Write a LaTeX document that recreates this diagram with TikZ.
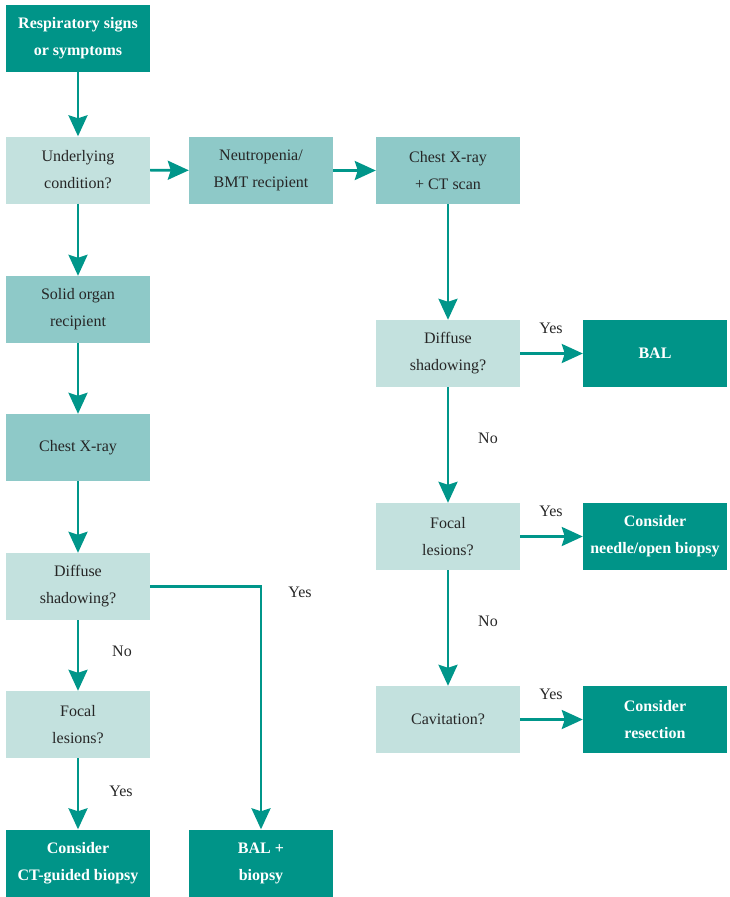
\documentclass[tikz,border=0pt]{standalone}
\usepackage{fontspec}
\setmainfont{Liberation Serif}
\usetikzlibrary{arrows.meta}
\definecolor{darkteal}{RGB}{0,148,136}
\definecolor{midteal}{RGB}{142,201,200}
\definecolor{lightteal}{RGB}{195,225,222}
\definecolor{arrowteal}{RGB}{0,150,138}
\begin{document}
\begin{tikzpicture}[x=1pt,y=-1pt,
  box/.style={minimum width=144pt,minimum height=67pt,inner sep=0pt,align=center,
    font=\fontsize{16}{27}\selectfont,text=black!85},
  darkbox/.style={box,fill=darkteal,text=white,font=\fontsize{16}{27}\selectfont\bfseries},
  midbox/.style={box,fill=midteal},
  lightbox/.style={box,fill=lightteal},
  arr/.style={draw=arrowteal,line width=2.6pt,-{Stealth[length=21pt,width=19pt,inset=3pt]}},
  lab/.style={font=\fontsize{16}{19}\selectfont,text=black!85}]
\useasboundingbox (0,0) rectangle (729,897);
% left column
\node[darkbox] (resp) at (78,38.5) {Respiratory signs\\or symptoms};
\node[lightbox] (under) at (78,170) {Underlying\\condition?};
\node[midbox] (neut) at (261,170.5) {Neutropenia/\\BMT recipient};
\node[midbox] (cxct) at (448,170.5) {Chest X-ray\\+ CT scan};
\node[midbox] (solid) at (78,309.5) {Solid organ\\recipient};
\node[midbox] (cxr) at (78,447.5) {Chest X-ray};
\node[lightbox] (diffL) at (78,586.5) {Diffuse\\shadowing?};
\node[lightbox] (focL) at (78,724.5) {Focal\\lesions?};
\node[darkbox] (ctb) at (78,863) {Consider\\CT-guided biopsy};
\node[darkbox] (balb) at (261,863) {BAL +\\biopsy};
% right column
\node[lightbox] (diffR) at (448,353.5) {Diffuse\\shadowing?};
\node[darkbox] (bal) at (655,353.5) {BAL};
\node[lightbox] (focR) at (448,536.5) {Focal\\lesions?};
\node[darkbox] (needle) at (655,536.5) {Consider\\needle/open biopsy};
\node[lightbox] (cav) at (448,719.5) {Cavitation?};
\node[darkbox] (resec) at (655,719.5) {Consider\\resection};
% connectors
\draw[arr] (resp) -- (under);
\draw[arr] (under) -- (neut);
\draw[arr] (neut) -- (cxct);
\draw[arr] (under) -- (solid);
\draw[arr] (solid) -- (cxr);
\draw[arr] (cxr) -- (diffL);
\draw[arr] (diffL) -- (focL);
\draw[arr] (focL) -- (ctb);
\draw[arr] (diffL.east) -| (balb.north);
\draw[arr] (cxct) -- (diffR);
\draw[arr] (diffR) -- (bal);
\draw[arr] (diffR) -- (focR);
\draw[arr] (focR) -- (needle);
\draw[arr] (focR) -- (cav);
\draw[arr] (cav) -- (resec);
% labels
\node[lab] (yes1) at (300,592) {Yes};
\node[lab] (no1) at (122,651) {No};
\node[lab] (yes2) at (121,791) {Yes};
\node[lab] (yes3) at (551,328) {Yes};
\node[lab] (no2) at (488,438) {No};
\node[lab] (yes4) at (551,511) {Yes};
\node[lab] (no3) at (488,621) {No};
\node[lab] (yes5) at (551,694) {Yes};
\end{tikzpicture}
\end{document}
